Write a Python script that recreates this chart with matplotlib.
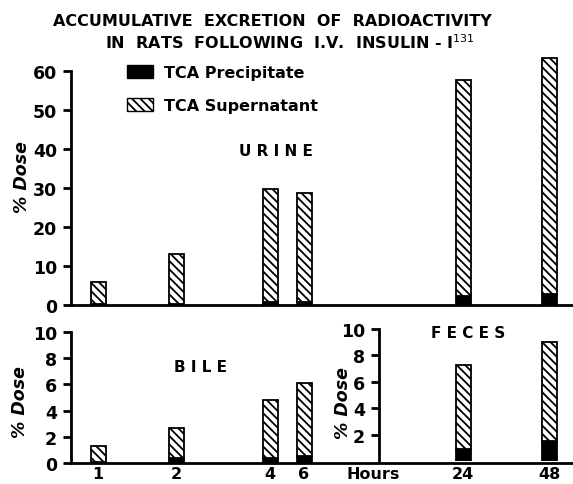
import matplotlib.pyplot as plt
from matplotlib.patches import Patch

# data (% dose)
urine_hours = ['1', '2', '4', '6', '24', '48']
urine_precip = [0.2, 0.3, 0.8, 0.7, 2.2, 2.7]
urine_total = [5.8, 13.2, 29.7, 28.7, 57.8, 63.5]

bile_hours = ['1', '2', '4', '6']
bile_precip = [0.1, 0.4, 0.4, 0.5]
bile_total = [1.3, 2.65, 4.8, 6.1]

feces_hours = ['24', '48']
feces_precip = [0.9, 1.55]
feces_total = [7.3, 9.0]

# layout (figure pixels)
W, H = 573, 485
xpos = {'1': 98, '2': 176, '4': 270, '6': 304, '24': 463, '48': 549}
bar_w = 15
HATCH = '\\\\\\\\'

plt.rcParams['hatch.linewidth'] = 1.3
plt.rcParams['font.family'] = 'DejaVu Sans'


def rect(x0, y0, x1, y1):
    return [x0 / W, (H - y1) / H, (x1 - x0) / W, (y1 - y0) / H]


def fx(x):
    return x / W


def fy(y):
    return 1 - y / H


def draw_bars(ax, hours, precip, total):
    x = [xpos[h] for h in hours]
    sup = [t - p for t, p in zip(total, precip)]
    ax.bar(x, precip, width=bar_w, color='black', edgecolor='black', linewidth=1.3)
    ax.bar(x, sup, bottom=precip, width=bar_w, facecolor='white',
           edgecolor='black', hatch=HATCH, linewidth=1.3)


def style(ax, lo, hi):
    for s in ['top', 'right']:
        ax.spines[s].set_visible(False)
    ax.spines['left'].set_linewidth(2)
    ax.spines['bottom'].set_linewidth(2)
    ax.spines['left'].set_bounds(lo, hi)
    ax.tick_params(axis='y', direction='out', length=6, width=2, pad=4,
                   labelsize=12.5)
    for lab in ax.get_yticklabels():
        lab.set_fontweight('bold')


fig = plt.figure(figsize=(W / 100, H / 100), dpi=100)

# urine
ax_u = fig.add_axes(rect(71, 49, 573, 306))
ax_u.set_xlim(71, 573)
ax_u.set_ylim(0, 66)
draw_bars(ax_u, urine_hours, urine_precip, urine_total)
ax_u.set_yticks(range(0, 61, 10))
ax_u.set_xticks([])
style(ax_u, 0, 60)

# bile
ax_b = fig.add_axes(rect(71, 333, 573, 464))
ax_b.set_xlim(71, 573)
ax_b.set_ylim(0, 10)
draw_bars(ax_b, bile_hours, bile_precip, bile_total)
ax_b.set_yticks(range(0, 11, 2))
xt = [xpos[h] for h in bile_hours] + [373] + [xpos[h] for h in feces_hours]
ax_b.set_xticks(xt, bile_hours + ['Hours'] + feces_hours)
ax_b.tick_params(axis='x', length=0, pad=2, labelsize=11.5)
for lab in ax_b.get_xticklabels():
    lab.set_fontweight('bold')
style(ax_b, 0, 10)

# feces
ax_f = fig.add_axes(rect(379, 330, 573, 462))
ax_f.patch.set_visible(False)
ax_f.set_xlim(379, 573)
ax_f.set_ylim(0, 10)
draw_bars(ax_f, feces_hours, feces_precip, feces_total)
ax_f.set_yticks(range(2, 11, 2))
ax_f.set_xticks([])
style(ax_f, 0, 10)
ax_f.spines['bottom'].set_visible(False)

# titles and labels
fig.text(fx(272), fy(22), 'ACCUMULATIVE  EXCRETION  OF  RADIOACTIVITY',
         ha='center', va='center', fontsize=11.5, fontweight='bold')
fig.text(fx(290), fy(43), 'IN  RATS  FOLLOWING  I.V.  INSULIN - I$^{131}$',
         ha='center', va='center', fontsize=11.5, fontweight='bold')

fig.text(fx(276), fy(152), 'U R I N E', ha='center', va='center',
         fontsize=11, fontweight='bold')
fig.text(fx(200), fy(368), 'B I L E', ha='center', va='center',
         fontsize=11, fontweight='bold')
fig.text(fx(468), fy(333), 'F E C E S', ha='center', va='center',
         fontsize=11, fontweight='bold')

for x, y in [(22, 177), (20, 402), (343, 403)]:
    fig.text(fx(x), fy(y), '% Dose', rotation=90, ha='center', va='center',
             fontsize=12.5, fontweight='bold', fontstyle='italic')

handles = [Patch(facecolor='black', edgecolor='black', label='TCA Precipitate'),
           Patch(facecolor='white', edgecolor='black', hatch=HATCH,
                 label='TCA Supernatant')]
ax_u.legend(handles=handles, loc='upper left', bbox_to_anchor=(fx(127), fy(66)),
            bbox_transform=fig.transFigure, frameon=False,
            prop={'size': 11.5, 'weight': 'bold'},
            handlelength=1.6, handleheight=0.9, handletextpad=0.7,
            labelspacing=1.1, borderpad=0, borderaxespad=0)

fig.savefig('out.png', dpi=100)
